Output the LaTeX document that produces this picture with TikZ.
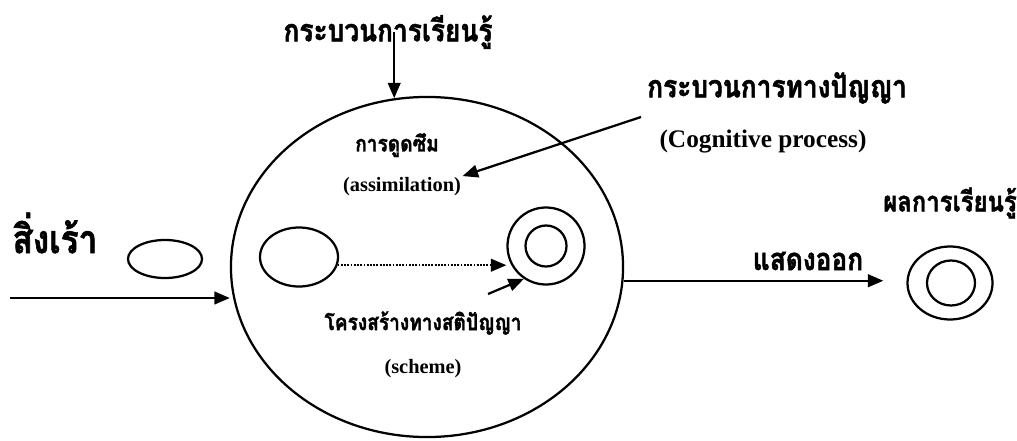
\documentclass[tikz,border=0pt]{standalone}
\usepackage{fontspec}
\setmainfont{Liberation Serif}
\newfontfamily\thaifont[Script=Thai, FakeStretch=0.85, FakeBold=1.5]{Loma}
\usetikzlibrary{shapes.geometric,arrows.meta}

\begin{document}
\begin{tikzpicture}[x=0.025cm, y=-0.025cm,
  oval/.style={ellipse, draw=black, line width=1.6pt, inner sep=0pt},
  thbig/.style={font=\thaifont\bfseries\fontsize{22}{24}\selectfont, inner sep=1pt},
  thsmall/.style={font=\thaifont\bfseries\fontsize{16}{18}\selectfont, inner sep=1pt},
  enbig/.style={font=\bfseries\fontsize{18}{20}\selectfont, inner sep=1pt},
  ensmall/.style={font=\bfseries\fontsize{14.5}{16}\selectfont, inner sep=1pt},
  arr/.style={-{Triangle[length=11pt,width=9pt]}, line width=1.6pt},
  darr/.style={-{Triangle[length=11pt,width=9pt]}, line width=1.3pt, densely dotted}
]
\useasboundingbox (0,0) rectangle (1017,440);
% ovals and rings
\node[oval, minimum width=9.8cm, minimum height=8.5cm] (proc) at (427,267) {};
\node[oval, minimum width=1.85cm, minimum height=0.95cm] (stim) at (165,259) {};
\node[oval, minimum width=1.95cm, minimum height=1.475cm] (struct) at (299,257) {};
\node[oval, minimum width=1.925cm, minimum height=1.925cm] (schout) at (546,246) {};
\node[oval, minimum width=1.025cm, minimum height=1.025cm] (schin) at (546,246) {};
\node[oval, minimum width=2.125cm, minimum height=1.825cm] (resout) at (950,283) {};
\node[oval, minimum width=1.2cm, minimum height=1.125cm] (resin) at (951,283) {};
% labels
\node[thbig] (learn) at (388,32) {กระบวนการเรียนรู้};
\node[thbig] (cogth) at (777,88) {กระบวนการทางปัญญา};
\node[enbig] (cogen) at (763,142) {(Cognitive process)};
\node[thsmall] (assimth) at (397,145) {การดูดซึม};
\node[ensmall] (assim) at (402,187) {(assimilation)};
\node[thbig, font=\thaifont\bfseries\fontsize{28}{30}\selectfont] (stimlab) at (55,233) {สิ่งเร้า};
\node[thsmall] (schth) at (423,323) {โครงสร้างทางสติปัญญา};
\node[ensmall] (schen) at (423,369) {(scheme)};
\node[thbig] (showlab) at (808,261) {แสดงออก};
\node[thbig, font=\thaifont\bfseries\fontsize{20}{22}\selectfont] (reslab) at (950,203) {ผลการเรียนรู้};
% arrows
\coordinate (cogfrom) at (641,117);
\coordinate (schfrom) at (488,294);
\coordinate (input) at (10,298);
\draw[arr] (learn.center -| proc.101) -- (proc.101);
\draw[arr] (cogfrom) -- (assim.north east);
\draw[darr] (struct.-12) -- (struct.-12 -| schout.west);
\draw[arr] (schfrom) -- (schout.236);
\draw[arr] (input) -- (input -| proc.west);
\draw[arr, shorten >=0.575cm] (proc.-4) -- (proc.-4 -| resout.west);
\end{tikzpicture}
\end{document}
